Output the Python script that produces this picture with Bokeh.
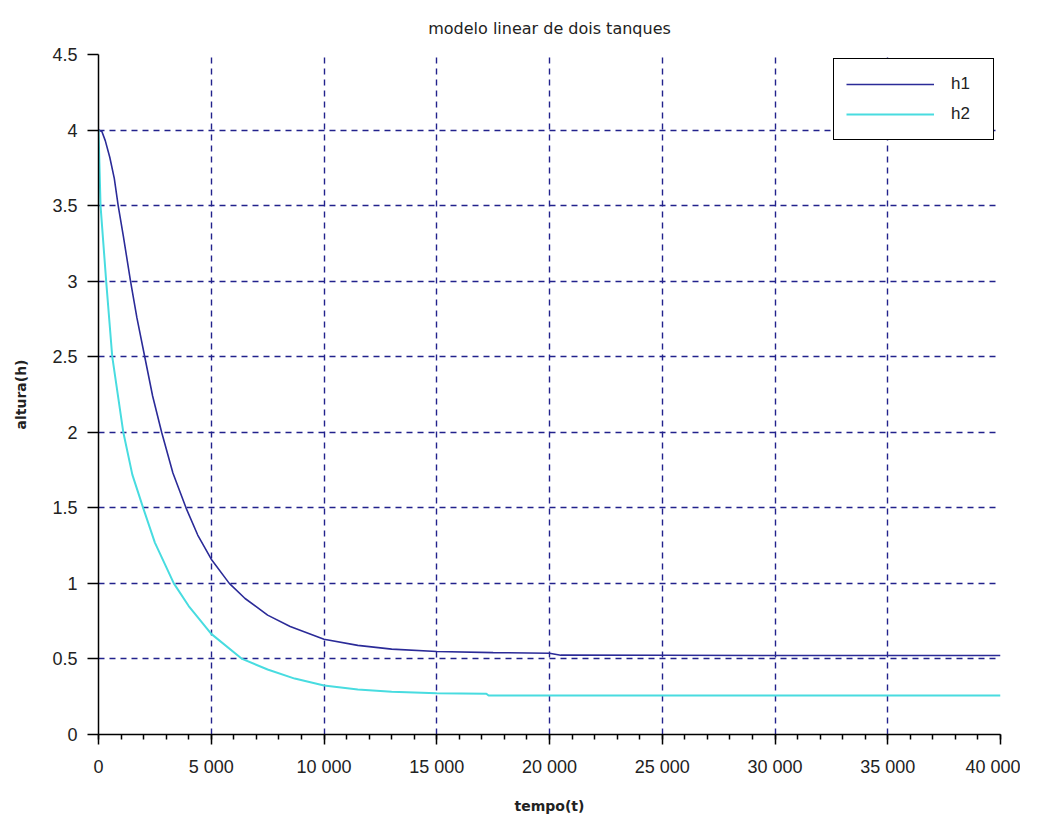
from bokeh.plotting import figure
from bokeh.models import FixedTicker, Legend, LegendItem, ColumnDataSource, CustomJSTickFormatter
from bokeh.embed import file_html
from bokeh.resources import INLINE

# ---- data ----
t_h1 = [0, 150, 300, 500, 700, 873, 1100, 1420, 1700, 2050, 2400, 2800, 3300, 3880,
        4400, 5000, 5800, 6500, 7500, 8500, 10000, 11500, 13000, 15000, 17500, 20000,
        20500, 25000, 30000, 35000, 40000]
h1 = [4.0, 3.99, 3.93, 3.82, 3.68, 3.5, 3.3, 3.0, 2.76, 2.5, 2.24, 2.0, 1.73, 1.5,
      1.32, 1.16, 1.0, 0.9, 0.79, 0.715, 0.63, 0.59, 0.565, 0.549, 0.542, 0.538,
      0.525, 0.524, 0.523, 0.523, 0.523]

t_h2 = [0, 90, 340, 610, 1100, 1500, 1980, 2500, 3340, 4000, 5000, 6370, 7500, 8700,
        10000, 11500, 13000, 15000, 17200, 17300, 20000, 25000, 30000, 35000, 40000]
h2 = [4.0, 3.5, 3.0, 2.5, 2.0, 1.72, 1.5, 1.27, 1.0, 0.85, 0.666, 0.5, 0.43, 0.37,
      0.324, 0.298, 0.283, 0.273, 0.27, 0.258, 0.258, 0.258, 0.258, 0.258, 0.258]

x_ticks = [0, 5000, 10000, 15000, 20000, 25000, 30000, 35000, 40000]
x_minor = list(range(0, 40001, 1000))
y_ticks = [0, 0.5, 1, 1.5, 2, 2.5, 3, 3.5, 4, 4.5]

title = "modelo linear de dois tanques"
x_label = "tempo(t)"
y_label = "altura(h)"
series_names = ["h1", "h2"]
series_colors = ["#2b2b98", "#48dce0"]

# ---- figure ----
p = figure(frame_width=902, frame_height=680,
           x_range=(0, 40000), y_range=(0, 4.5),
           output_backend="svg", toolbar_location=None,
           min_border_left=98, min_border_top=54, min_border_right=20, min_border_bottom=70,
           background_fill_color="white", border_fill_color="white")
p.outline_line_color = None

p.title.text = title
p.title.align = "center"
p.title.text_font = "DejaVu Sans"
p.title.text_font_size = "16px"
p.title.text_font_style = "normal"
p.title.text_color = "#222222"
p.title.standoff = 33

grid_color = "#22228c"

# x axis
p.xaxis.ticker = FixedTicker(ticks=x_ticks, minor_ticks=x_minor)
p.xaxis.formatter = CustomJSTickFormatter(code="""
    if (tick >= 1000) {
        const th = Math.floor(tick / 1000);
        const r = String(Math.round(tick % 1000)).padStart(3, '0');
        return th + ' ' + r;
    }
    return String(tick);
""")
p.xaxis.axis_label = x_label
p.xaxis.major_tick_out = 10
p.xaxis.major_tick_in = 0
p.xaxis.minor_tick_out = 5
p.xaxis.minor_tick_in = 0
p.xaxis.major_label_standoff = 12
p.xaxis.axis_label_standoff = 18

# y axis
p.yaxis.ticker = FixedTicker(ticks=y_ticks, minor_ticks=[])
p.yaxis.formatter = CustomJSTickFormatter(code="return String(tick);")
p.yaxis.axis_label = y_label
p.yaxis.major_tick_out = 11
p.yaxis.major_tick_in = 0
p.yaxis.minor_tick_out = 0
p.yaxis.minor_tick_in = 0
p.yaxis.major_label_standoff = 10
p.yaxis.axis_label_standoff = 20

for ax in (p.xaxis, p.yaxis):
    ax.axis_line_color = "black"
    ax.axis_line_width = 1.5
    ax.major_tick_line_color = "black"
    ax.major_tick_line_width = 1.5
    ax.minor_tick_line_color = "black"
    ax.minor_tick_line_width = 1.5
    ax.major_label_text_font = "Liberation Sans"
    ax.major_label_text_font_size = "18px"
    ax.major_label_text_color = "#222222"
    ax.axis_label_text_font = "DejaVu Sans"
    ax.axis_label_text_font_size = "14px"
    ax.axis_label_text_font_style = "bold"
    ax.axis_label_text_color = "#222222"

for g in (p.xgrid, p.ygrid):
    g.grid_line_color = grid_color
    g.grid_line_dash = "6 5"
    g.grid_line_width = 1.4
    g.grid_line_alpha = 1.0

src1 = ColumnDataSource(data=dict(t=t_h1, h=h1))
src2 = ColumnDataSource(data=dict(t=t_h2, h=h2))
r1 = p.line("t", "h", source=src1, line_color=series_colors[0], line_width=1.6)
r2 = p.line("t", "h", source=src2, line_color=series_colors[1], line_width=2.0)

legend = Legend(items=[LegendItem(label=series_names[0], renderers=[r1]),
                       LegendItem(label=series_names[1], renderers=[r2])],
                location=(735, 594))
legend.padding = 12
legend.spacing = 4
legend.margin = 0
legend.glyph_width = 88
legend.glyph_height = 26
legend.label_height = 26
legend.label_width = 30
legend.label_standoff = 17
legend.label_text_font = "Liberation Sans"
legend.label_text_font_size = "17px"
legend.label_text_color = "#222222"
legend.border_line_color = "black"
legend.border_line_width = 1.5
legend.border_line_alpha = 1.0
legend.background_fill_color = "white"
legend.background_fill_alpha = 1.0
p.add_layout(legend)

open("out.html", "w").write(file_html(p, INLINE))
